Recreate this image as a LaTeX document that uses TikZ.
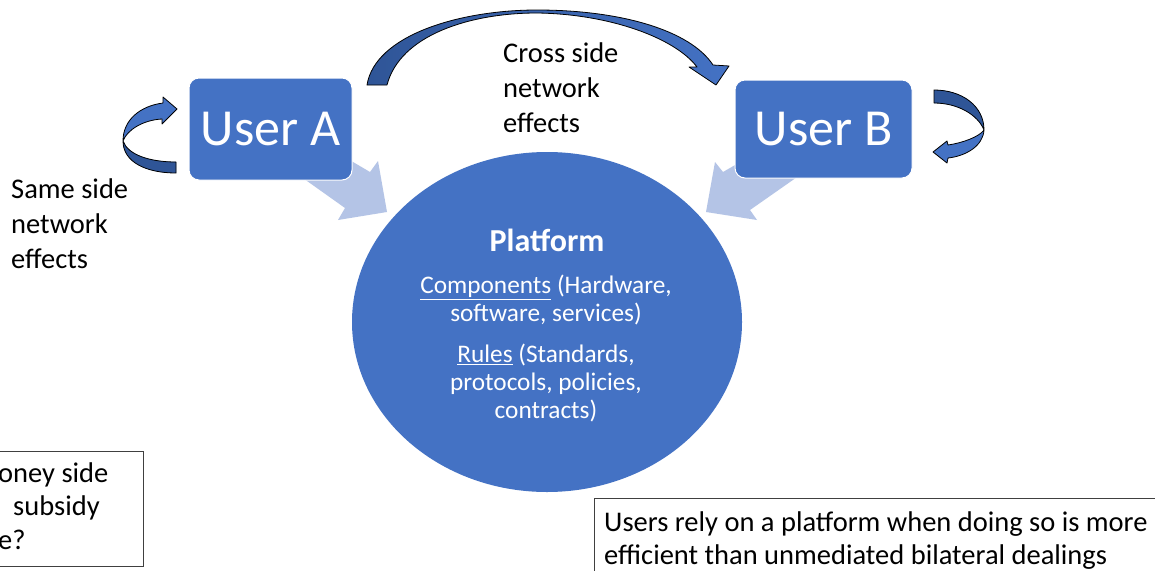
\documentclass[tikz,border=0pt]{standalone}
\usepackage{fontspec}
\setmainfont{Carlito}
\usetikzlibrary{shapes.geometric}
\definecolor{pblue}{HTML}{4472C4}
\definecolor{pdark}{HTML}{2F5597}
\definecolor{plight}{HTML}{B4C4E6}
\definecolor{boxline}{HTML}{404040}
\begin{document}
\begin{tikzpicture}[x=1pt,y=-1pt,
  userbox/.style={draw=white, line width=1pt, fill=pblue, rounded corners=10pt,
    text=white, font=\fontsize{52}{60}\selectfont, inner sep=0},
  blockarrow/.style={fill=plight, draw=none},
  swirl/.style={draw=black, line width=0.8pt, line join=round},
  lbl/.style={font=\fontsize{28.5}{35}\selectfont, align=left, inner sep=0, anchor=north west},
  ptext/.style={text=white, font=\fontsize{25.3}{28}\selectfont, align=center, inner sep=0},
  note/.style={draw=boxline, line width=0.8pt, fill=white},
  notetext/.style={font=\fontsize{28.5}{33}\selectfont, inner sep=0, anchor=base west}
]
\clip (0,0) rectangle (1155,570);
\fill[white] (0,0) rectangle (1155,570);

% platform
\node[ellipse, fill=pblue, minimum width=390pt, minimum height=340pt, inner sep=0] (plat) at (547,322) {};

% wide arrows from the users into the platform
\path[blockarrow] (300,176) -- (336,152) -- (370,172) -- (378,161) -- (387,212)
  -- (338,220) -- (345,208) -- cycle;
\path[blockarrow] (805,171.5) -- (775,142) -- (723,172) -- (715,162) -- (706,212)
  -- (757,220) -- (750,210) -- cycle;

% users
\node[userbox, minimum width=163pt, minimum height=102pt] (ua) at (270.5,129) {User A};
\node[userbox, minimum width=177pt, minimum height=98pt] (ub) at (823.5,129) {User B};

% same side loop, user A
\fill[pblue] (176,173) .. controls (146,173) and (123,162) .. (123,141)
  .. controls (123,120) and (140,106) .. (163,103) -- (163,97) -- (177,109)
  -- (162,124) -- (162,119) .. controls (143,120) and (127,130) .. (123,141)
  .. controls (128,155) and (150,162) .. (176,162) -- cycle;
\fill[pdark] (176,173) .. controls (146,173) and (123,162) .. (123,141)
  .. controls (128,155) and (150,162) .. (176,162) -- cycle;
\draw[swirl] (176,173) .. controls (146,173) and (123,162) .. (123,141)
  .. controls (123,120) and (140,106) .. (163,103) -- (163,97) -- (177,109)
  -- (162,124) -- (162,119) .. controls (143,120) and (127,130) .. (123,141)
  .. controls (128,155) and (150,162) .. (176,162) -- cycle;

% same side loop, user B
\fill[pblue] (934,90) .. controls (962,90) and (984,106) .. (984,130)
  .. controls (983,146) and (966,156) .. (948,158) -- (947,163) -- (933,152)
  -- (947,141) -- (948,145) .. controls (962,143) and (979,137) .. (984,130)
  .. controls (978,115) and (958,103) .. (934,103) -- cycle;
\fill[pdark] (934,90) .. controls (962,90) and (984,106) .. (984,130)
  .. controls (978,115) and (958,103) .. (934,103) -- cycle;
\draw[swirl] (934,90) .. controls (962,90) and (984,106) .. (984,130)
  .. controls (983,146) and (966,156) .. (948,158) -- (947,163) -- (933,152)
  -- (947,141) -- (948,145) .. controls (962,143) and (979,137) .. (984,130)
  .. controls (978,115) and (958,103) .. (934,103) -- cycle;

% cross side arc from A to B
\shadedraw[swirl, left color=pdark, right color=pblue]
  (367,85) .. controls (375,35) and (460,10) .. (537,10)
  .. controls (620,10) and (690,30) .. (713,65) -- (729,66) -- (716,85)
  -- (689,67) -- (697,67) .. controls (675,38) and (610,14) .. (537,13)
  .. controls (470,13) and (400,35) .. (387,85) -- cycle;

% labels
\node[lbl] (same) at (11,179) {Same side\\network\\effects};
\node[lbl] (cross) at (503,43) {Cross side\\network\\effects};

% platform contents
\node[text=white, font=\fontsize{32}{36}\selectfont\bfseries, inner sep=0] (ptitle) at (547,240) {Platform};
\node[ptext] (comp) at (546,300) {\underline{Components} (Hardware,\\software, services)};
\node[ptext] (rules) at (546,383) {\underline{Rules} (Standards,\\protocols, policies,\\contracts)};

% notes
\draw[note] (-5,451) rectangle (143,566);
\node[notetext] (n1) at (-2,482) {oney side};
\node[notetext] (n2) at (13,515.5) {subsidy};
\node[notetext] (n3) at (-2,549) {e?};

\draw[note] (594,498) rectangle (1170,590);
\node[notetext] (m1) at (604,531) {Users rely on a platform when doing so is more};
\node[notetext] (m2) at (604,564) {efficient than unmediated bilateral dealings};
\end{tikzpicture}
\end{document}
